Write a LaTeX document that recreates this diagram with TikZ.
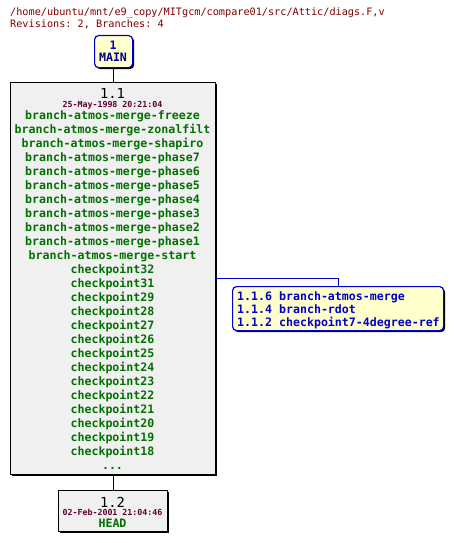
\documentclass[tikz,border=0pt]{standalone}
\usepackage{fontspec}
\setmonofont{DejaVu Sans Mono}
\usetikzlibrary{shadows}
\definecolor{hdr}{HTML}{800000}
\definecolor{datec}{HTML}{600030}
\definecolor{grn}{HTML}{007000}
\definecolor{blu}{HTML}{0000CC}
\definecolor{navy}{HTML}{000080}
\definecolor{boxfill}{HTML}{F0F0F0}
\definecolor{yel}{HTML}{FFFFCC}
\tikzset{
  revbox/.style={draw=black, line width=1pt, fill=boxfill, anchor=north west, inner sep=0pt,
    drop shadow={shadow xshift=1.5pt, shadow yshift=-1.5pt, fill=black, opacity=1}},
  tagbox/.style={draw=blu, line width=1.2pt, fill=yel, rounded corners=4pt, anchor=north west, inner sep=0pt,
    drop shadow={shadow xshift=1.5pt, shadow yshift=-1.5pt, fill=black, opacity=1}},
  hdrtxt/.style={anchor=base west, inner sep=0pt, text=hdr, font=\ttfamily\fontsize{10.2}{12}\selectfont},
  revtxt/.style={anchor=base, inner sep=0pt, text=black, font=\ttfamily\fontsize{13.8}{16}\selectfont},
  datetxt/.style={anchor=base, inner sep=0pt, text=datec, font=\ttfamily\bfseries\fontsize{8.3}{10}\selectfont},
  tagtxt/.style={anchor=base, inner sep=0pt, text=grn, font=\ttfamily\bfseries\fontsize{11.6}{14}\selectfont},
  brtxt/.style={anchor=base west, inner sep=0pt, text=blu, font=\ttfamily\bfseries\fontsize{11.6}{14}\selectfont},
  link/.style={draw=black, line width=1pt},
  brlink/.style={draw=blu, line width=1pt}
}
\begin{document}
\begin{tikzpicture}[x=1pt,y=-1pt]
\useasboundingbox[fill=white] (0,0) rectangle (454,543);
% header
\node[hdrtxt] (h1) at (10,16) {/home/ubuntu/mnt/e9\_copy/MITgcm/compare01/src/Attic/diags.F,v};
\node[hdrtxt] (h2) at (10,28) {Revisions: 2, Branches: 4};
% MAIN box
\node[tagbox, minimum width=38pt, minimum height=32pt] (main) at (94,35) {};
\node[anchor=base, inner sep=0pt, text=blu, font=\ttfamily\bfseries\fontsize{11.6}{14}\selectfont] (m1) at (113,49) {1};
\node[anchor=base, inner sep=0pt, text=navy, font=\ttfamily\bfseries\fontsize{11.6}{14}\selectfont] (m2) at (113,62) {MAIN};
% revision 1.1
\node[revbox, minimum width=205pt, minimum height=392pt] (r11) at (10,82) {};
\node[revtxt] (r11n) at (112.5,98) {1.1};
\node[datetxt] (r11d) at (112.5,107) {25-May-1998 20:21:04};
\foreach \t [count=\i from 0] in {branch-atmos-merge-freeze,branch-atmos-merge-zonalfilt,branch-atmos-merge-shapiro,branch-atmos-merge-phase7,branch-atmos-merge-phase6,branch-atmos-merge-phase5,branch-atmos-merge-phase4,branch-atmos-merge-phase3,branch-atmos-merge-phase2,branch-atmos-merge-phase1,branch-atmos-merge-start,checkpoint32,checkpoint31,checkpoint29,checkpoint28,checkpoint27,checkpoint26,checkpoint25,checkpoint24,checkpoint23,checkpoint22,checkpoint21,checkpoint20,checkpoint19,checkpoint18}
  \node[tagtxt] (t\i) at (112.5,119+14*\i) {\t};
\node[tagtxt] (tdots) at (112.5,469) {...};
% revision 1.2
\node[revbox, minimum width=109pt, minimum height=41pt] (r12) at (58,490) {};
\node[revtxt] (r12n) at (112.5,507) {1.2};
\node[datetxt] (r12d) at (112.5,515) {02-Feb-2001 21:04:46};
\node[tagtxt] (r12t) at (112.5,527) {HEAD};
% branches box
\node[tagbox, minimum width=211pt, minimum height=44pt] (br) at (232,286) {};
\node[brtxt] (b1) at (237,300) {1.1.6 branch-atmos-merge};
\node[brtxt] (b2) at (237,313) {1.1.4 branch-rdot};
\node[brtxt] (b3) at (237,326) {1.1.2 checkpoint7-4degree-ref};
% connectors
\draw[link] (main.south) -- (r11.north -| main.south);
\draw[link] (r11.south -| r12.north) -- (r12.north);
\coordinate (bend) at (338,278);
\draw[brlink] (r11.east |- bend) -- (bend) -- (br.north -| bend);
\end{tikzpicture}
\end{document}
